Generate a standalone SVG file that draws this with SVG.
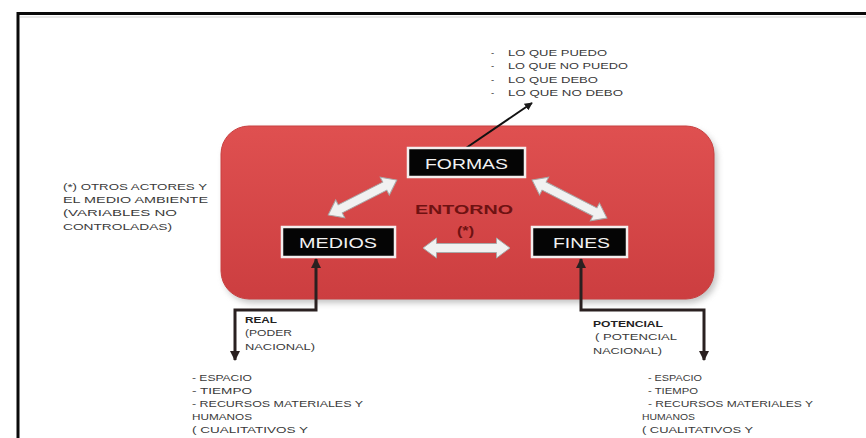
<svg xmlns="http://www.w3.org/2000/svg" width="866" height="438" viewBox="0 0 866 438">
<style>
.t{font-family:"Liberation Sans","Open Sans",sans-serif;font-size:9.5px;fill:#3a3a3a}
.b{font-weight:bold;fill:#222}
.nt{font-family:"Liberation Sans","Open Sans",sans-serif;font-size:15px;fill:#f2f2f2;text-anchor:middle}
.box{fill:#050505;stroke:#f4eeee;stroke-width:2.5}
.da{fill:#f1f1f1;stroke:#a9a9a9;stroke-width:1}
.con{fill:none;stroke:#2a2020;stroke-width:3}
</style>
<defs>
<linearGradient id="rg" x1="0" y1="0" x2="0" y2="1">
<stop offset="0" stop-color="#df5050"/>
<stop offset="1" stop-color="#cc3e40"/>
</linearGradient>
<filter id="sh" x="-10%" y="-10%" width="120%" height="130%">
<feGaussianBlur stdDeviation="3"/>
</filter>
<marker id="ah" viewBox="0 0 10 10" refX="9" refY="5" markerWidth="4" markerHeight="4" orient="auto-start-reverse">
<path d="M0,0 L10,5 L0,10 z" fill="#1a1a1a"/>
</marker>
<marker id="ah2" viewBox="0 0 10 10" refX="9" refY="5" markerWidth="3.5" markerHeight="3.5" orient="auto-start-reverse">
<path d="M0,0 L10,5 L0,10 z" fill="#2a2020"/>
</marker>
</defs>
<rect x="0" y="0" width="866" height="438" fill="#fff"/>
<rect x="18" y="13.5" width="900" height="500" fill="#fff" stroke="#0a0a0a" stroke-width="3"/>
<line x1="20" y1="17" x2="866" y2="17" stroke="#d0d0d0" stroke-width="1"/>

<g id="entorno">
<rect x="224" y="130" width="493" height="173" rx="28" fill="#888" opacity="0.5" filter="url(#sh)"/>
<rect x="221" y="126" width="493" height="173" rx="28" fill="url(#rg)" stroke="#c84040" stroke-width="1"/>
<text class="t b" x="415" y="214" textLength="98" lengthAdjust="spacingAndGlyphs" style="font-size:13px;fill:#6e1212">ENTORNO</text>
<text class="t b" x="457" y="235" textLength="17" lengthAdjust="spacingAndGlyphs" style="font-size:12px;fill:#6e1212">(*)</text>
</g>

<g id="connectors">
<line x1="466" y1="148" x2="532" y2="103" stroke="#111" stroke-width="2" marker-end="url(#ah)"/>
<path class="con" d="M316,259 V310 H235 V360" marker-start="url(#ah2)" marker-end="url(#ah2)"/>
<path class="con" d="M581,259 V310 H704 V360" marker-start="url(#ah2)" marker-end="url(#ah2)"/>
<polygon class="da" transform="translate(466.5,248)" points="-43.5,0 -30,-10 -30,-4.5 30,-4.5 30,-10 43.5,0 30,10 30,4.5 -30,4.5 -30,10"/>
<polygon class="da" transform="translate(362.5,197.5) rotate(-27)" points="-38.5,0 -25,-10 -25,-4.5 25,-4.5 25,-10 38.5,0 25,10 25,4.5 -25,4.5 -25,10"/>
<polygon class="da" transform="translate(569.5,199) rotate(27)" points="-42,0 -28.5,-10 -28.5,-4.5 28.5,-4.5 28.5,-10 42,0 28.5,10 28.5,4.5 -28.5,4.5 -28.5,10"/>
</g>

<g id="formas">
<rect class="box" x="408" y="148" width="117" height="29"/>
<text class="nt" x="466.5" y="169" textLength="83" lengthAdjust="spacingAndGlyphs">FORMAS</text>
</g>
<g id="medios">
<rect class="box" x="282" y="227" width="113" height="30"/>
<text class="nt" x="338" y="248" textLength="78" lengthAdjust="spacingAndGlyphs">MEDIOS</text>
</g>
<g id="fines">
<rect class="box" x="532" y="227" width="95" height="30"/>
<text class="nt" x="581.5" y="248" textLength="57" lengthAdjust="spacingAndGlyphs">FINES</text>
</g>

<g id="lista-formas">
<text class="t" x="491" y="56">-</text>
<text class="t" x="491" y="69">-</text>
<text class="t" x="491" y="83">-</text>
<text class="t" x="491" y="96">-</text>
<text class="t" x="508" y="56" textLength="99" lengthAdjust="spacingAndGlyphs">LO QUE PUEDO</text>
<text class="t" x="508" y="69" textLength="120" lengthAdjust="spacingAndGlyphs">LO QUE NO PUEDO</text>
<text class="t" x="508" y="83" textLength="90" lengthAdjust="spacingAndGlyphs">LO QUE DEBO</text>
<text class="t" x="508" y="96" textLength="115" lengthAdjust="spacingAndGlyphs">LO QUE NO DEBO</text>
</g>

<g id="nota">
<text class="t" x="63" y="190" textLength="144" lengthAdjust="spacingAndGlyphs">(*) OTROS ACTORES Y</text>
<text class="t" x="63" y="203" textLength="145" lengthAdjust="spacingAndGlyphs">EL MEDIO  AMBIENTE</text>
<text class="t" x="63" y="216" textLength="114" lengthAdjust="spacingAndGlyphs">(VARIABLES NO</text>
<text class="t" x="63" y="230" textLength="109" lengthAdjust="spacingAndGlyphs">CONTROLADAS)</text>
</g>

<g id="real">
<text class="t b" x="245" y="323" textLength="32" lengthAdjust="spacingAndGlyphs">REAL</text>
<text class="t" x="245" y="336" textLength="47" lengthAdjust="spacingAndGlyphs">(PODER</text>
<text class="t" x="245" y="350" textLength="70" lengthAdjust="spacingAndGlyphs">NACIONAL)</text>
<text class="t" x="192" y="381" textLength="60" lengthAdjust="spacingAndGlyphs">- ESPACIO</text>
<text class="t" x="192" y="394" textLength="60" lengthAdjust="spacingAndGlyphs">- TIEMPO</text>
<text class="t" x="192" y="407" textLength="171" lengthAdjust="spacingAndGlyphs">- RECURSOS MATERIALES Y</text>
<text class="t" x="192" y="420" textLength="60" lengthAdjust="spacingAndGlyphs">HUMANOS</text>
<text class="t" x="192" y="433" textLength="116" lengthAdjust="spacingAndGlyphs">( CUALITATIVOS Y</text>
</g>

<g id="potencial">
<text class="t b" x="593" y="327" textLength="70" lengthAdjust="spacingAndGlyphs">POTENCIAL</text>
<text class="t" x="595" y="340" textLength="82" lengthAdjust="spacingAndGlyphs">( POTENCIAL</text>
<text class="t" x="593" y="354" textLength="69" lengthAdjust="spacingAndGlyphs">NACIONAL)</text>
<text class="t" x="648" y="381" textLength="54" lengthAdjust="spacingAndGlyphs">- ESPACIO</text>
<text class="t" x="648" y="394" textLength="50" lengthAdjust="spacingAndGlyphs">- TIEMPO</text>
<text class="t" x="648" y="407" textLength="165" lengthAdjust="spacingAndGlyphs">- RECURSOS MATERIALES Y</text>
<text class="t" x="642" y="420" textLength="53" lengthAdjust="spacingAndGlyphs">HUMANOS</text>
<text class="t" x="642" y="433" textLength="111" lengthAdjust="spacingAndGlyphs">( CUALITATIVOS Y</text>
</g>
</svg>
